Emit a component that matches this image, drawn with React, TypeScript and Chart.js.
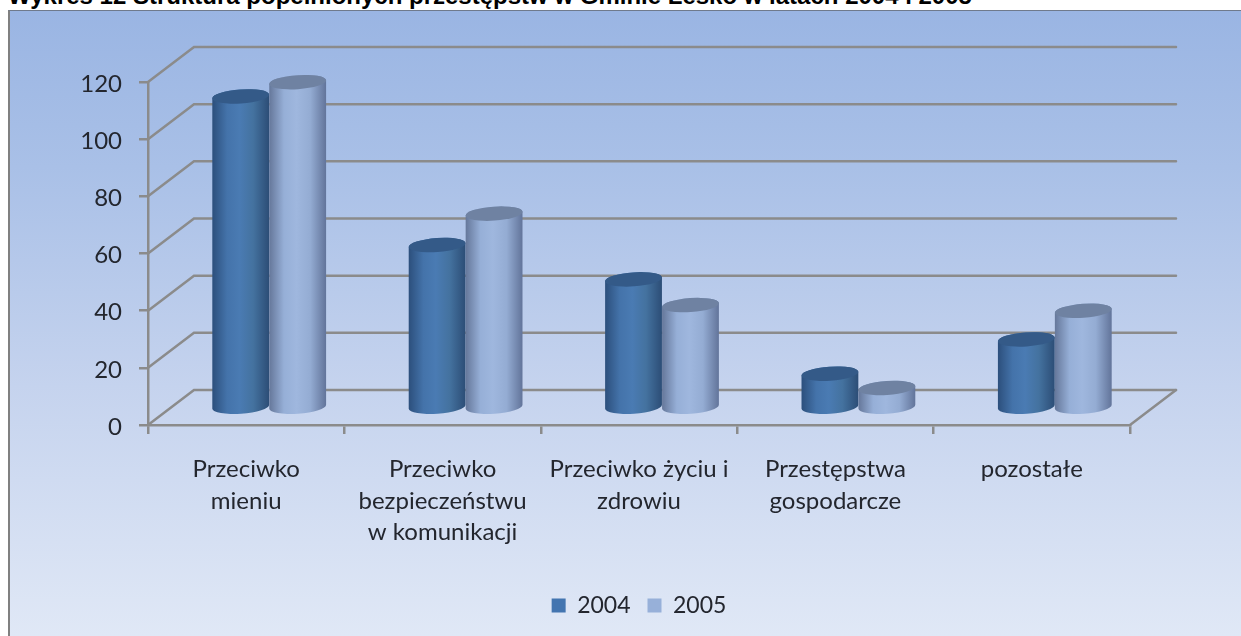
import React, { useEffect, useRef } from "react";
import { Chart, registerables, BarController, BarElement } from "chart.js";

const TITLE = "Wykres 12 Struktura popełnionych przestępstw w Gminie Lesko w latach 2004 i 2005";
const categories = [
  ["Przeciwko", "mieniu"],
  ["Przeciwko", "bezpieczeństwu", "w komunikacji"],
  ["Przeciwko życiu i", "zdrowiu"],
  ["Przestępstwa", "gospodarcze"],
  ["pozostałe"],
];
const values2004 = [109, 57, 45, 12, 24];
const values2005 = [114, 68, 36, 7, 34];
const seriesNames = ["2004", "2005"];
const yMax = 120;
const yStep = 20;

const DEPTH_X = 46;
const DEPTH_Y = 35;
const AXIS = "#8b8b8b";
const TEXT = "#23262e";
const FONT = "Lato";

const shades: Record<string, string[]> = {
  "#4375b0": ["#2c4f7c", "#4473aa", "#4a7bb3", "#44729f", "#2c4d76", "#345a88"],
  "#97b0d9": ["#65779a", "#96afd7", "#9fb7de", "#94acd3", "#62749a", "#6f82a2"],
};

class Cylinder extends BarElement {
  static id = "cylinder";
  static defaults = BarElement.defaults;
  draw(ctx: CanvasRenderingContext2D) {
    const { x, y, base, width } = (this as any).getProps(["x", "y", "base", "width"], true);
    const s = shades[(this as any).options.backgroundColor] || shades["#4375b0"];
    const cx = x + DEPTH_X / 2;
    const top = y - DEPTH_Y / 2 + 0.5;
    const bottom = base - DEPTH_Y / 2 + 0.5;
    const rx = width / 2;
    const ry = 7;
    const rot = -0.07;
    const dx = rx * Math.cos(rot);
    const dy = rx * Math.sin(rot);
    const g = ctx.createLinearGradient(cx - rx, 0, cx + rx, 0);
    g.addColorStop(0, s[0]);
    g.addColorStop(0.26, s[1]);
    g.addColorStop(0.48, s[2]);
    g.addColorStop(0.72, s[3]);
    g.addColorStop(1, s[4]);
    ctx.save();
    ctx.beginPath();
    ctx.moveTo(cx - dx, top - dy);
    ctx.lineTo(cx - dx, bottom - dy);
    ctx.ellipse(cx, bottom, rx, ry, rot, Math.PI, 0, true);
    ctx.lineTo(cx + dx, top + dy);
    ctx.ellipse(cx, top, rx, ry, rot, 0, Math.PI, true);
    ctx.closePath();
    ctx.fillStyle = g;
    ctx.fill();
    ctx.beginPath();
    ctx.ellipse(cx, top, rx, ry, rot, 0, Math.PI * 2);
    ctx.fillStyle = s[5];
    ctx.fill();
    ctx.restore();
  }
}

class CylinderController extends BarController {
  static id = "cylinder";
  static defaults = { ...BarController.defaults, dataElementType: "cylinder" };
  static overrides = BarController.overrides;
  draw() {
    // the later series sits in front of the earlier one
    if ((this as any).index === 0) return;
    const first = this.chart.getDatasetMeta(0).controller as any;
    BarController.prototype.draw.call(first);
    super.draw();
  }
}

const depthWalls = {
  id: "depthWalls",
  beforeDatasetsDraw(chart: Chart) {
    const { ctx, chartArea } = chart;
    const y = chart.scales.y;
    ctx.save();
    ctx.strokeStyle = AXIS;
    ctx.lineWidth = 2.5;
    ctx.lineCap = "round";
    y.ticks.forEach((_t, i) => {
      const py = y.getPixelForTick(i);
      ctx.beginPath();
      ctx.moveTo(chartArea.left, py);
      ctx.lineTo(chartArea.left + DEPTH_X, py - DEPTH_Y);
      ctx.lineTo(chartArea.right + DEPTH_X, py - DEPTH_Y);
      ctx.stroke();
    });
    ctx.beginPath();
    ctx.moveTo(chartArea.right, chartArea.bottom);
    ctx.lineTo(chartArea.right + DEPTH_X, chartArea.bottom - DEPTH_Y);
    ctx.stroke();
    ctx.restore();
  },
};

Chart.register(...registerables, Cylinder, CylinderController);

export default function App() {
  const ref = useRef<HTMLCanvasElement>(null);
  useEffect(() => {
    const chart = new Chart(ref.current!, {
      type: "cylinder" as any,
      data: {
        labels: categories as any,
        datasets: [
          { label: seriesNames[0], data: values2004, backgroundColor: "#4375b0", clip: false as any },
          { label: seriesNames[1], data: values2005, backgroundColor: "#97b0d9", clip: false as any },
        ],
      },
      options: {
        animation: false,
        responsive: false,
        layout: { padding: { top: 82, right: 111, bottom: 9, left: 0 } },
        datasets: { cylinder: { barPercentage: 1, categoryPercentage: 0.58 } } as any,
        plugins: {
          title: { display: false },
          tooltip: { enabled: false },
          legend: {
            position: "bottom",
            fullSize: false,
            labels: {
              boxWidth: 14,
              boxHeight: 14,
              padding: 17,
              color: TEXT,
              font: { family: FONT, size: 23 },
            },
          },
        },
        scales: {
          x: {
            type: "category",
            offset: true,
            afterFit: (s: any) => {
              s.height = 152;
            },
            border: { color: AXIS, width: 2.5 },
            grid: { offset: true, drawOnChartArea: false, color: AXIS, lineWidth: 2.5, tickLength: 9 },
            ticks: {
              color: TEXT,
              padding: 20,
              maxRotation: 0,
              autoSkip: false,
              font: { family: FONT, size: 24, lineHeight: 1.3 },
            },
          },
          y: {
            type: "linear",
            min: 0,
            max: yMax,
            afterFit: (s: any) => {
              s.width = 148;
            },
            border: { color: AXIS, width: 2.5 },
            grid: { drawOnChartArea: false, color: AXIS, lineWidth: 2.5, tickLength: 9 },
            ticks: {
              stepSize: yStep,
              color: TEXT,
              padding: 17,
              labelOffset: 2,
              font: { family: FONT, size: 24 },
            },
          },
        },
      },
      plugins: [depthWalls],
    } as any);
    return () => chart.destroy();
  }, []);

  return (
    <div style={{ position: "fixed", left: 0, top: 0, width: 1241, height: 636, background: "#fff", overflow: "hidden" }}>
      <div
        style={{
          position: "absolute",
          left: 8,
          top: 10,
          right: 0,
          bottom: 0,
          boxSizing: "border-box",
          borderLeft: "2px solid #808080",
          borderTop: "1px solid #6f7a8c",
          background: "linear-gradient(180deg, #9ab5e3 0%, #a9c0e7 25%, #c5d3ee 60%, #e0e8f6 100%)",
        }}
      />
      <div
        style={{
          position: "absolute",
          left: 8,
          top: -15,
          whiteSpace: "nowrap",
          color: "#000",
          font: "bold 24px 'Liberation Sans'",
          lineHeight: "22px",
          height: 24,
        }}
      >
        {TITLE}
      </div>
      <canvas ref={ref} width={1241} height={636} style={{ position: "absolute", left: 0, top: 0, filter: "blur(0.5px)" }} />
    </div>
  );
}
